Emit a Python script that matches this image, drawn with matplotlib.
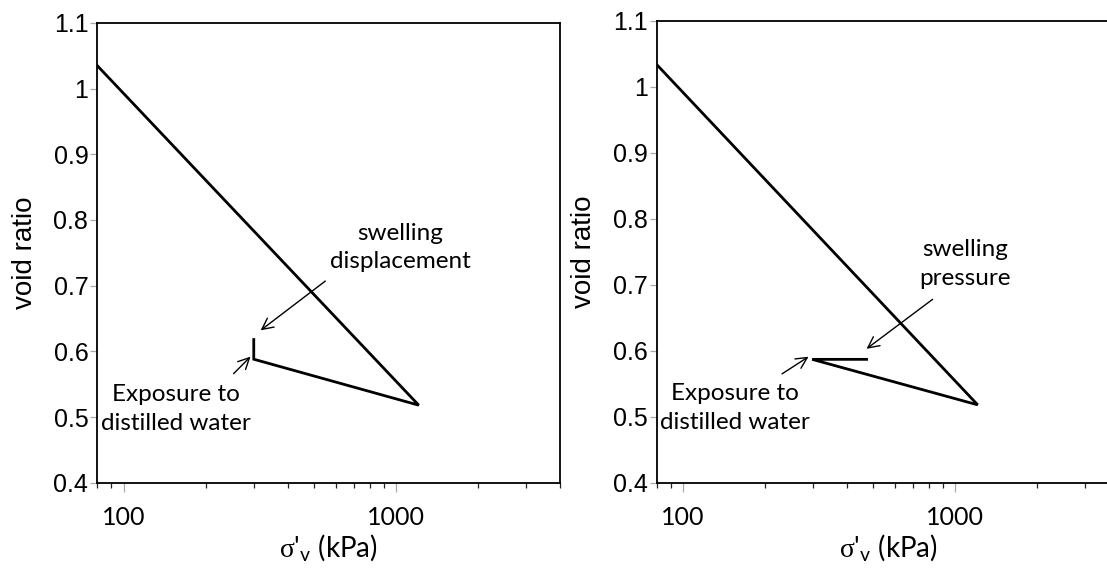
import matplotlib
matplotlib.use("Agg")
import matplotlib.pyplot as plt
from matplotlib.ticker import FixedLocator, LogLocator, NullFormatter

plt.rcParams['mathtext.fontset'] = 'custom'
plt.rcParams['mathtext.rm'] = 'Liberation Serif'
plt.rcParams['mathtext.sf'] = 'Lato'

# oedometer paths (sigma'v in kPa, void ratio)
sigma_disp = [80, 1209, 300, 300]
e_disp = [1.035, 0.518, 0.588, 0.618]
sigma_pres = [80, 1208, 298, 472]
e_pres = [1.034, 0.518, 0.587, 0.587]

x_ticks = [100, 1000]
x_labels = ['100', '1000']
y_ticks = [0.4, 0.5, 0.6, 0.7, 0.8, 0.9, 1.0, 1.1]
y_labels = ['0.4', '0.5', '0.6', '0.7', '0.8', '0.9', '1', '1.1']

# annotations: (text, text pos, arrow tail, arrow head)
notes_disp = [
    ('swelling\ndisplacement', (1037, 0.758), (549, 0.707), (318, 0.632)),
    ('Exposure to\ndistilled water', (155, 0.512), (253, 0.566), (292, 0.592)),
]
notes_pres = [
    ('swelling\npressure', (1082, 0.732), (825, 0.678), (472, 0.603)),
    ('Exposure to\ndistilled water', (155, 0.513), (231, 0.565), (289, 0.591)),
]

fig = plt.figure(figsize=(11.07, 5.69), dpi=100)
ax1 = fig.add_axes([0.0879, 0.1517, 0.4183, 0.8079])
ax2 = fig.add_axes([0.5932, 0.1517, 0.4179, 0.8114])


def style(ax, xs, ys, notes):
    ax.plot(xs, ys, color='black', lw=2, solid_joinstyle='miter')
    ax.set_xscale('log')
    ax.set_xlim(80, 4000)
    ax.set_ylim(0.4, 1.1)
    ax.xaxis.set_major_locator(FixedLocator(x_ticks))
    ax.set_xticklabels(x_labels, family='Lato', fontsize=18)
    ax.xaxis.set_minor_locator(LogLocator(base=10, subs=[2, 3, 4, 5, 6, 7, 8, 9]))
    ax.xaxis.set_minor_formatter(NullFormatter())
    ax.set_yticks(y_ticks)
    ax.set_yticklabels(y_labels, family='Liberation Sans', fontsize=18)
    ax.tick_params(axis='x', which='major', direction='out', length=6.5,
                   width=0.9, color='#a8a8a8', pad=10)
    ax.tick_params(axis='x', which='minor', direction='out', length=3.4,
                   width=0.9, color='#222222')
    ax.tick_params(axis='y', which='major', direction='out', length=5,
                   width=0.9, color='#a8a8a8', pad=1.5)
    for sp in ax.spines.values():
        sp.set_linewidth(1.3)
        sp.set_color('black')
    ax.set_ylabel('void ratio', family='Liberation Sans', fontsize=20, va='center')
    ax.yaxis.set_label_coords(-0.157, 0.5)
    ax.set_xlabel("$\\mathrm{\\sigma}$'$_{\\mathsf{v}}$ (kPa)", family='Lato',
                  fontsize=20, va='center')
    ax.xaxis.set_label_coords(0.5, -0.142)
    for txt, pos, tail, head in notes:
        ax.text(pos[0], pos[1], txt, ha='center', va='center', family='Lato',
                fontsize=17.5, linespacing=1.45)
        ax.annotate('', xy=head, xytext=tail,
                    arrowprops=dict(arrowstyle='->', lw=1, color='black',
                                    mutation_scale=20, shrinkA=0, shrinkB=0))


style(ax1, sigma_disp, e_disp, notes_disp)
style(ax2, sigma_pres, e_pres, notes_pres)

fig.savefig('out.png', dpi=100)
